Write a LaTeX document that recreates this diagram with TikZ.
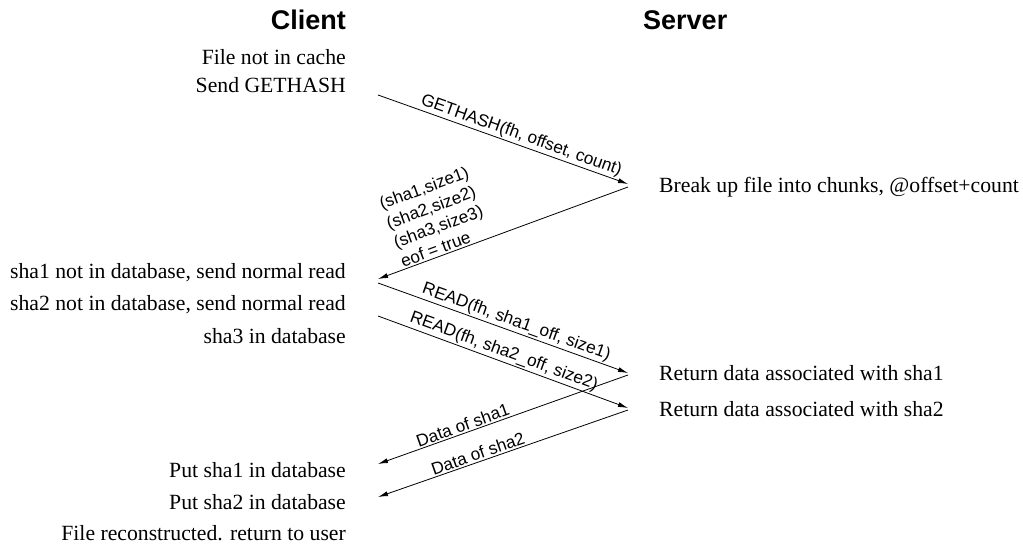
\documentclass[tikz,border=0pt]{standalone}
\usepackage{fontspec}
\setmainfont{Liberation Serif}
\setsansfont{Liberation Sans}
\usetikzlibrary{arrows.meta}

\begin{document}
\begin{tikzpicture}[
    x=1pt, y=-1pt,
    head/.style={font=\sffamily\bfseries\fontsize{27}{32}\selectfont, inner sep=0pt},
    note/.style={font=\fontsize{21.7}{26}\selectfont, inner sep=0pt},
    msg/.style={->, line width=0.8pt},
    lbl/.style={font=\sffamily\fontsize{17.2}{20.5}\selectfont, sloped, above, inner sep=1.5pt},
    >={Latex[length=10pt,width=5pt]}
    ]
    \useasboundingbox (0,0) rectangle (1023,548);

    % Headings
    \node[head, anchor=east] (client) at (346,20) {Client};
    \node[head, anchor=west] (server) at (643,20) {Server};

    % Client side
    \node[note, anchor=east] (miss) at (346,57) {File not in cache};
    \node[note, anchor=east] (send) at (346,85) {Send GETHASH};
    \node[note, anchor=east] (nodb1) at (346,273) {sha1 not in database, send normal read};
    \node[note, anchor=east] (nodb2) at (346,305) {sha2 not in database, send normal read};
    \node[note, anchor=east] (indb3) at (346,336) {sha3 in database};
    \node[note, anchor=east] (put1) at (346,470) {Put sha1 in database};
    \node[note, anchor=east] (put2) at (346,502) {Put sha2 in database};
    \node[note, anchor=east] (done) at (346,533) {File reconstructed. return to user};

    % Server side
    \node[note, anchor=west] (chunks) at (659,187) {Break up file into chunks, @offset+count};
    \node[note, anchor=west] (ret1) at (659,373) {Return data associated with sha1};
    \node[note, anchor=west] (ret2) at (659,409) {Return data associated with sha2};

    % Message ends
    \coordinate (gh-c) at (378,95);
    \coordinate (gh-s) at (628,184);
    \coordinate (hs-s) at (628,187);
    \coordinate (hs-c) at (378,279);
    \coordinate (rd1-c) at (378,283);
    \coordinate (rd1-s) at (628,373);
    \coordinate (rd2-c) at (378,316);
    \coordinate (rd2-s) at (628,408);
    \coordinate (dt1-s) at (628,375);
    \coordinate (dt1-c) at (378,464);
    \coordinate (dt2-s) at (628,410);
    \coordinate (dt2-c) at (378,497);

    % Messages
    \draw[msg] (gh-c) -- node[lbl, pos=0.56] {GETHASH(fh, offset, count)} (gh-s);
    \draw[msg] (hs-s) -- node[lbl, pos=0.72, align=left]
        {(sha1,size1)\\(sha2,size2)\\(sha3,size3)\\eof = true} (hs-c);
    \draw[msg] (rd1-c) -- node[lbl, pos=0.54] {READ(fh, sha1\_off, size1)} (rd1-s);
    \draw[msg] (rd2-c) -- node[lbl, pos=0.49] {READ(fh, sha2\_off, size2)} (rd2-s);
    \draw[msg] (dt1-s) -- node[lbl, pos=0.65] {Data of sha1} (dt1-c);
    \draw[msg] (dt2-s) -- node[lbl, pos=0.59] {Data of sha2} (dt2-c);
\end{tikzpicture}
\end{document}
